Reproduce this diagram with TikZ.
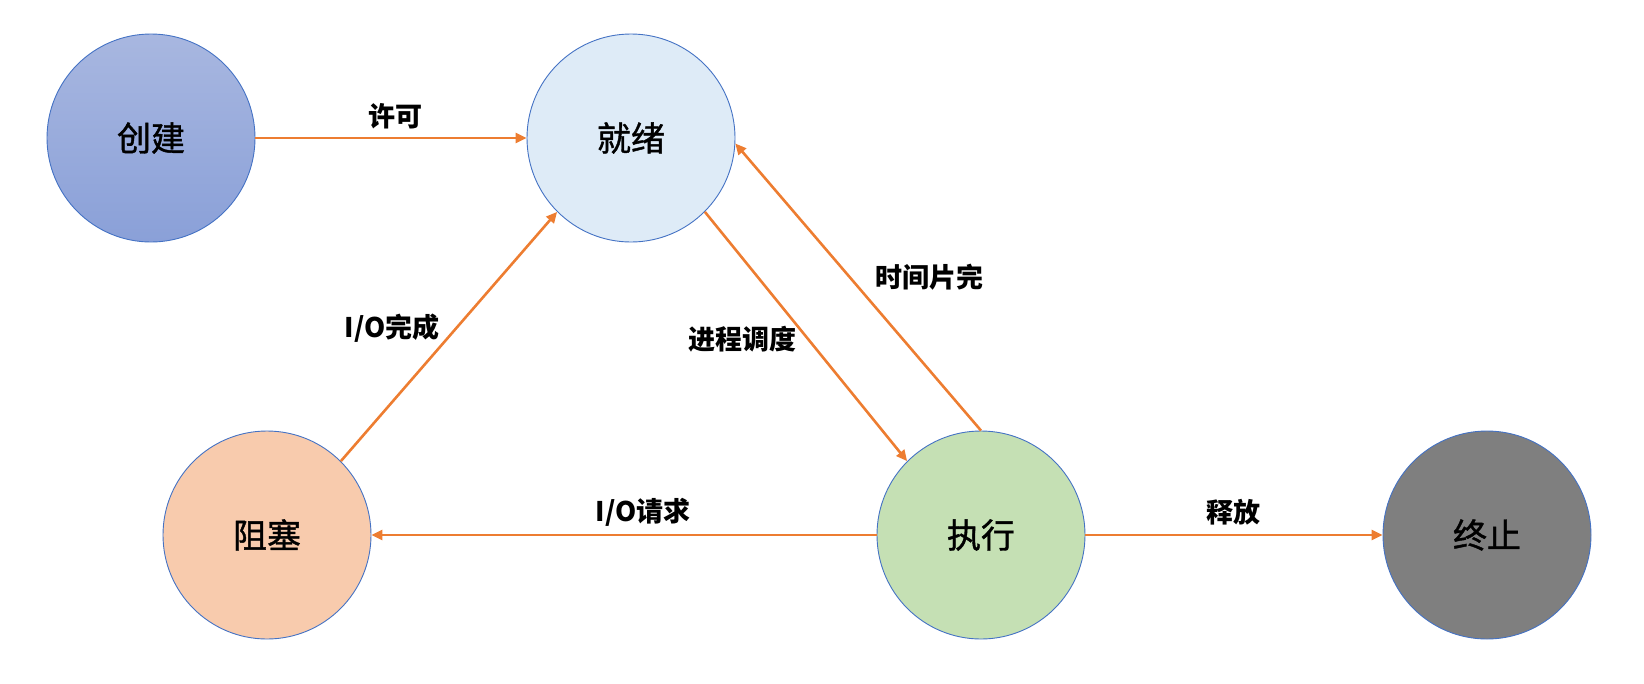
\documentclass[tikz,border=0pt]{standalone}
\usepackage{fontspec}
\setmainfont{Noto Sans CJK SC}
\newfontfamily\statefont{Noto Sans CJK SC}[FakeBold=1.2]
\usetikzlibrary{arrows.meta}
\definecolor{arr}{HTML}{ED7D31}
\definecolor{bord}{HTML}{4472C4}
\definecolor{ctop}{HTML}{A8B7E0}
\definecolor{cbot}{HTML}{8AA0D8}
\definecolor{ready}{HTML}{DEEBF7}
\definecolor{block}{HTML}{F8CBAD}
\definecolor{run}{HTML}{C5E0B4}
\definecolor{term}{HTML}{7F7F7F}
\tikzset{
  state/.style={circle, draw=bord, line width=0.9pt, minimum size=208pt, inner sep=0pt, font=\statefont\fontsize{34}{38}\selectfont},
  conn/.style={draw=arr, line width=2.6pt, -{Triangle[length=11pt,width=10pt]}},
  lbl/.style={font=\fontsize{27}{31}\selectfont\bfseries, inner sep=0pt}
}
\begin{document}
\begin{tikzpicture}[x=1pt,y=-1pt]
\useasboundingbox (0,0) rectangle (1644,683);
\node[state, top color=ctop, bottom color=cbot] (create) at (151,138) {创建};
\node[state, fill=ready] (ready) at (631,138) {就绪};
\node[state, fill=block] (block) at (267,535) {阻塞};
\node[state, fill=run] (run) at (981,535) {执行};
\node[state, fill=term] (term) at (1487,535) {终止};

\draw[conn] (create) -- (ready);
\draw[conn] (block.45) -- (ready.225);
\draw[conn] (ready.-45) -- (run.135);
\draw[conn] (run.north) -- (ready.-3);
\draw[conn] (run) -- (block);
\draw[conn] (run) -- (term);

\node[lbl] (l1) at (395,116) {许可};
\node[lbl] (l2) at (392,328) {I/O完成};
\node[lbl] (l3) at (742,339) {进程调度};
\node[lbl] (l4) at (929,277) {时间片完};
\node[lbl] (l5) at (643,512) {I/O请求};
\node[lbl] (l6) at (1233,512) {释放};
\end{tikzpicture}
\end{document}
